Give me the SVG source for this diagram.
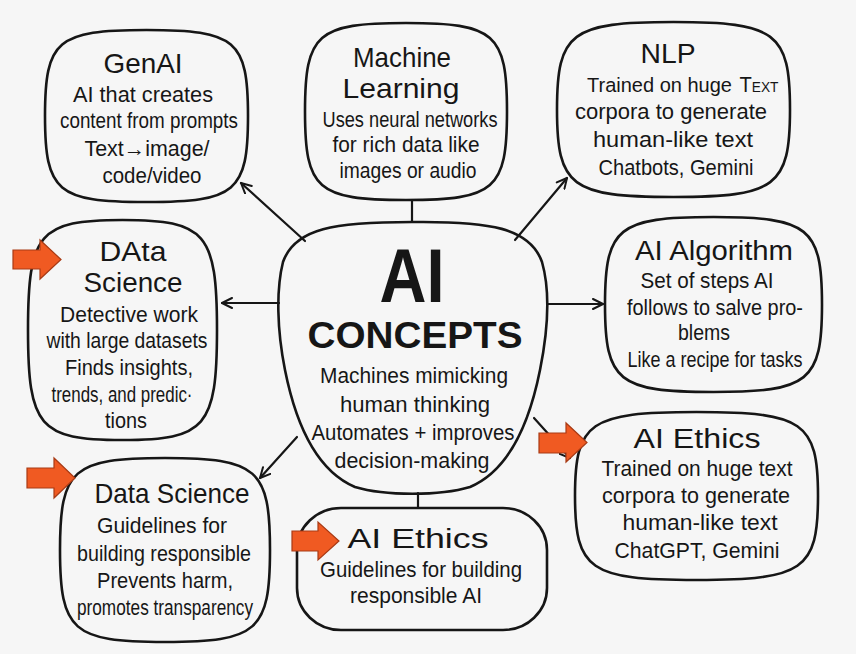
<svg xmlns="http://www.w3.org/2000/svg" width="856" height="654" viewBox="0 0 856 654">
<defs>
<style>
.bg{fill:#f6f6f6}
.box{fill:none;stroke:#161616;stroke-width:2.6;stroke-linejoin:round}
.con{stroke:#161616;stroke-width:2.2;fill:none;stroke-linecap:round}
.arr{marker-end:url(#head)}
.blk{fill:#f05a22;stroke:#a83a14;stroke-width:1.2;stroke-linejoin:miter}
text{font-family:"Liberation Sans",Arial,sans-serif;fill:#161616;text-anchor:middle}
.t{font-size:27.5px}
.b{font-size:22px}
.sc{font-variant:small-caps}
.big{font-size:76px;font-weight:bold}
.cap{font-size:37px;font-weight:bold}
</style>
<marker id="head" viewBox="0 0 12 12" refX="11" refY="6" markerWidth="12" markerHeight="12" markerUnits="userSpaceOnUse" orient="auto">
<path d="M1,1 L11,6 L1,11" fill="none" stroke="#161616" stroke-width="2" stroke-linecap="round" stroke-linejoin="round"/>
</marker>
</defs>
<rect class="bg" x="0" y="0" width="856" height="654"/>

<g id="connectors">
<line class="con arr" x1="305" y1="241" x2="241" y2="183"/>
<line class="con" x1="412" y1="200" x2="412" y2="222"/>
<line class="con arr" x1="515" y1="240" x2="567" y2="178"/>
<line class="con arr" x1="279" y1="303" x2="222" y2="303"/>
<line class="con arr" x1="547" y1="304" x2="603" y2="304"/>
<line class="con arr" x1="297" y1="437" x2="260" y2="478"/>
<line class="con arr" x1="534" y1="418" x2="570" y2="458"/>
<line class="con" x1="418" y1="493" x2="418" y2="508"/>
</g>

<g id="genai">
<path class="box" d="M146.5,30 C235.8,30 248,40.3 248,116 C248,191.7 235.8,202 146.5,202 C57.2,202 45,191.7 45,116 C45,40.3 57.2,30 146.5,30Z"/>
<text class="t" x="143" y="73" textLength="79" lengthAdjust="spacingAndGlyphs">GenAI</text>
<text class="b" x="143" y="102" textLength="140" lengthAdjust="spacingAndGlyphs">AI that creates</text>
<text class="b" x="149" y="128" textLength="178" lengthAdjust="spacingAndGlyphs">content from prompts</text>
<text class="b" x="147" y="156" textLength="125" lengthAdjust="spacingAndGlyphs">Text→image/</text>
<text class="b" x="152" y="183" textLength="99" lengthAdjust="spacingAndGlyphs">code/video</text>
</g>

<g id="machine-learning">
<path class="box" d="M406,23 C494.9,23 507,33.6 507,111.5 C507,189.4 494.9,200 406,200 C317.1,200 305,189.4 305,111.5 C305,33.6 317.1,23 406,23Z"/>
<text class="t" x="402" y="67" textLength="98" lengthAdjust="spacingAndGlyphs">Machine</text>
<text class="t" x="401" y="98" textLength="117" lengthAdjust="spacingAndGlyphs">Learning</text>
<text class="b" x="410" y="127" textLength="175" lengthAdjust="spacingAndGlyphs">Uses neural networks</text>
<text class="b" x="406" y="152" textLength="147" lengthAdjust="spacingAndGlyphs">for rich data like</text>
<text class="b" x="408" y="178" textLength="137" lengthAdjust="spacingAndGlyphs">images or audio</text>
</g>

<g id="nlp">
<path class="box" d="M673.5,22 C776,22 790,32.5 790,109.5 C790,186.5 776,197 673.5,197 C571,197 557,186.5 557,109.5 C557,32.5 571,22 673.5,22Z"/>
<text class="t" x="668" y="63" textLength="55" lengthAdjust="spacingAndGlyphs">NLP</text>
<text x="659.5" y="92" style="font-size:20.5px" textLength="145" lengthAdjust="spacingAndGlyphs">Trained on huge</text>
<text class="b sc" x="759" y="92" textLength="39" lengthAdjust="spacingAndGlyphs">Text</text>
<text class="b" x="671" y="119" textLength="192" lengthAdjust="spacingAndGlyphs">corpora to generate</text>
<text class="b" x="673" y="147" textLength="160" lengthAdjust="spacingAndGlyphs">human-like text</text>
<text class="b" x="676" y="175" textLength="155" lengthAdjust="spacingAndGlyphs">Chatbots, Gemini</text>
</g>

<g id="data-science-top">
<path class="box" d="M122.5,220 C205.7,220 217,233.2 217,330 C217,426.8 205.7,440 122.5,440 C39.3,440 28,426.8 28,330 C28,233.2 39.3,220 122.5,220Z"/>
<text class="t" x="133" y="261" textLength="67" lengthAdjust="spacingAndGlyphs">DAta</text>
<text class="t" x="133" y="292" textLength="99" lengthAdjust="spacingAndGlyphs">Science</text>
<text class="b" x="129" y="322" textLength="138" lengthAdjust="spacingAndGlyphs">Detective work</text>
<text class="b" x="127" y="348" textLength="161" lengthAdjust="spacingAndGlyphs">with large datasets</text>
<text class="b" x="129" y="375" textLength="128" lengthAdjust="spacingAndGlyphs">Finds insights,</text>
<text class="b" x="122" y="402" textLength="141" lengthAdjust="spacingAndGlyphs">trends, and predic·</text>
<text class="b" x="126" y="428" textLength="42" lengthAdjust="spacingAndGlyphs">tions</text>
</g>

<g id="ai-concepts">
<path class="box" d="M412,222 C490,221 530,228 542,262 C550,290 548,330 540,370 C530,420 510,470 470,487 C440,496 385,496 355,487 C315,470 295,420 285,370 C277,330 276,290 283,262 C295,228 335,222 412,222Z"/>
<text class="big" x="412" y="302" textLength="65" lengthAdjust="spacingAndGlyphs">AI</text>
<text class="cap" x="415" y="348" textLength="215" lengthAdjust="spacingAndGlyphs">CONCEPTS</text>
<text class="b" x="414" y="383" textLength="188" lengthAdjust="spacingAndGlyphs">Machines mimicking</text>
<text class="b" x="415" y="412" textLength="150" lengthAdjust="spacingAndGlyphs">human thinking</text>
<text class="b" x="413" y="440" textLength="203" lengthAdjust="spacingAndGlyphs">Automates + improves</text>
<text class="b" x="412" y="468" textLength="155" lengthAdjust="spacingAndGlyphs">decision-making</text>
</g>

<g id="ai-algorithm">
<path class="box" d="M713.5,217 C809,217 822,227.5 822,304.5 C822,381.5 809,392 713.5,392 C618,392 605,381.5 605,304.5 C605,227.5 618,217 713.5,217Z"/>
<text class="t" x="714" y="260" textLength="158" lengthAdjust="spacingAndGlyphs">AI Algorithm</text>
<text class="b" x="707" y="288" textLength="133" lengthAdjust="spacingAndGlyphs">Set of steps AI</text>
<text class="b" x="715" y="315" textLength="176" lengthAdjust="spacingAndGlyphs">follows to salve pro-</text>
<text class="b" x="704" y="340" textLength="52" lengthAdjust="spacingAndGlyphs">blems</text>
<text class="b" x="715" y="367" textLength="175" lengthAdjust="spacingAndGlyphs">Like a recipe for tasks</text>
</g>

<g id="data-science-bottom">
<path class="box" d="M165,458 C257.4,458 270,469 270,550 C270,631 257.4,642 165,642 C72.6,642 60,631 60,550 C60,469 72.6,458 165,458Z"/>
<text class="t" x="172" y="503" textLength="155" lengthAdjust="spacingAndGlyphs">Data Science</text>
<text class="b" x="162" y="533" textLength="130" lengthAdjust="spacingAndGlyphs">Guidelines for</text>
<text class="b" x="164" y="561" textLength="174" lengthAdjust="spacingAndGlyphs">building responsible</text>
<text class="b" x="165" y="588" textLength="136" lengthAdjust="spacingAndGlyphs">Prevents harm,</text>
<text class="b" x="165" y="615" textLength="176" lengthAdjust="spacingAndGlyphs">promotes transparency</text>
</g>

<g id="ai-ethics-bottom">
<rect class="box" x="297" y="508" width="250" height="122" rx="44" ry="42"/>
<text class="t" x="418" y="548" textLength="141" lengthAdjust="spacingAndGlyphs">AI Ethics</text>
<text class="b" x="421" y="577" textLength="202" lengthAdjust="spacingAndGlyphs">Guidelines for building</text>
<text class="b" x="416" y="603" textLength="132" lengthAdjust="spacingAndGlyphs">responsible AI</text>
</g>

<g id="ai-ethics-right">
<path class="box" d="M696.5,412 C803.4,412 818,422.1 818,496 C818,569.9 803.4,580 696.5,580 C589.6,580 575,569.9 575,496 C575,422.1 589.6,412 696.5,412Z"/>
<text class="t" x="697" y="448" textLength="127" lengthAdjust="spacingAndGlyphs">AI Ethics</text>
<text class="b" x="697" y="476" textLength="191" lengthAdjust="spacingAndGlyphs">Trained on huge text</text>
<text class="b" x="696" y="503" textLength="188" lengthAdjust="spacingAndGlyphs">corpora to generate</text>
<text class="b" x="700" y="530" textLength="155" lengthAdjust="spacingAndGlyphs">human-like text</text>
<text class="b" x="697" y="558" textLength="165" lengthAdjust="spacingAndGlyphs">ChatGPT, Gemini</text>
</g>

<g id="highlight-arrows">
<polygon class="blk" points="13,250 40,250 40,240 61,259.5 40,279 40,269 13,269"/>
<polygon class="blk" points="27,468 54,468 54,458 75,478 54,498 54,488 27,488"/>
<polygon class="blk" points="292,531 318,531 318,522 339,541 318,560 318,551 292,551"/>
<polygon class="blk" points="539,433 566,433 566,423 587,442.5 566,462 566,453 539,453"/>
</g>
</svg>
